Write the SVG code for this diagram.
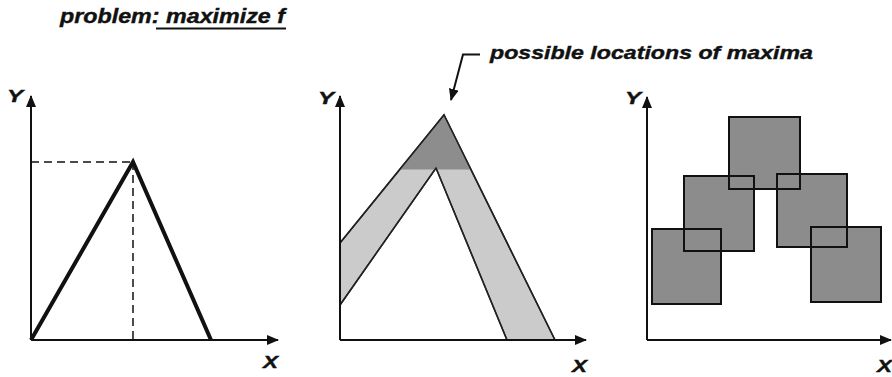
<svg xmlns="http://www.w3.org/2000/svg" width="892" height="377" viewBox="0 0 892 377">
<defs>
<marker id="ah" markerUnits="userSpaceOnUse" markerWidth="12" markerHeight="10" refX="11" refY="5" orient="auto">
<path d="M0,0 L12,5 L0,10 Z" fill="#111"/>
</marker>
<marker id="ah2" markerUnits="userSpaceOnUse" markerWidth="12" markerHeight="10" refX="11" refY="5" orient="auto">
<path d="M0,0 L12,5 L0,10 Z" fill="#111"/>
</marker>
</defs>
<style>
.t{font-family:"Liberation Sans",Arial,sans-serif;font-weight:bold;font-style:italic;fill:#111;stroke:#111;stroke-width:0.4}
.ax{stroke:#111;stroke-width:2;fill:none}
.tri{stroke:#111;stroke-width:4;fill:none;stroke-linejoin:miter}
.dash{stroke:#111;stroke-width:1.5;stroke-dasharray:8 5;fill:none}
.band{fill:#cbcbcb;stroke:#222;stroke-width:1.5}
.cap{fill:#8d8d8d;stroke:none}
.sq{fill:#8c8c8c;stroke:none}
.sqo{fill:none;stroke:#111;stroke-width:2}
</style>
<rect width="892" height="377" fill="#fff"/>

<g id="title">
<text class="t" x="60" y="23" font-size="20" textLength="225" lengthAdjust="spacingAndGlyphs">problem: maximize f</text>
<line x1="156" y1="28.5" x2="286" y2="28.5" stroke="#111" stroke-width="2"/>
</g>

<g id="panel1">
<line class="ax" x1="31" y1="340" x2="31" y2="96" marker-end="url(#ah)"/>
<line class="ax" x1="31" y1="340" x2="278" y2="340" marker-end="url(#ah)"/>
<text class="t" x="7" y="102" font-size="17" textLength="16" lengthAdjust="spacingAndGlyphs">Y</text>
<text class="t" x="263" y="368" font-size="17" textLength="15" lengthAdjust="spacingAndGlyphs">X</text>
<line class="dash" x1="31" y1="162" x2="133" y2="162"/>
<line class="dash" x1="133" y1="162" x2="133" y2="340"/>
<polyline class="tri" points="31,340 133,162 211,340"/>
</g>

<g id="panel2">
<polygon class="band" points="340,243 444,115 555,340 507,340 436,168 340,305"/>
<polygon class="cap" points="444,116 400,169.5 471,169.5"/>
<polyline points="340,243 444,115 555,340" fill="none" stroke="#222" stroke-width="1.5"/>
<polyline points="340,305 436,168 507,340" fill="none" stroke="#222" stroke-width="1.5"/>
<line class="ax" x1="340" y1="340" x2="340" y2="96" marker-end="url(#ah)"/>
<line class="ax" x1="340" y1="340" x2="586" y2="340" marker-end="url(#ah)"/>
<text class="t" x="318" y="104" font-size="17" textLength="16" lengthAdjust="spacingAndGlyphs">Y</text>
<text class="t" x="572" y="372" font-size="17" textLength="15" lengthAdjust="spacingAndGlyphs">X</text>
</g>

<g id="label-maxima">
<text class="t" x="490" y="59" font-size="19" textLength="323" lengthAdjust="spacingAndGlyphs">possible locations of maxima</text>
</g>

<g id="connectors">
<polyline points="480,54.5 463,54.5 451,100" fill="none" stroke="#111" stroke-width="2" marker-end="url(#ah2)"/>
</g>

<g id="panel3">
<rect class="sq" x="652" y="229" width="69" height="75"/>
<rect class="sq" x="684" y="176" width="70" height="75"/>
<rect class="sq" x="729" y="117" width="71" height="72"/>
<rect class="sq" x="777" y="174" width="70" height="73"/>
<rect class="sq" x="811" y="227" width="70" height="75"/>
<rect class="sqo" x="652" y="229" width="69" height="75"/>
<rect class="sqo" x="684" y="176" width="70" height="75"/>
<rect class="sqo" x="729" y="117" width="71" height="72"/>
<rect class="sqo" x="777" y="174" width="70" height="73"/>
<rect class="sqo" x="811" y="227" width="70" height="75"/>
<line class="ax" x1="647" y1="340" x2="647" y2="97" marker-end="url(#ah)"/>
<line class="ax" x1="647" y1="340" x2="891" y2="340" marker-end="url(#ah)"/>
<text class="t" x="625" y="104" font-size="17" textLength="16" lengthAdjust="spacingAndGlyphs">Y</text>
<text class="t" x="877" y="372" font-size="17" textLength="15" lengthAdjust="spacingAndGlyphs">X</text>
</g>
</svg>
